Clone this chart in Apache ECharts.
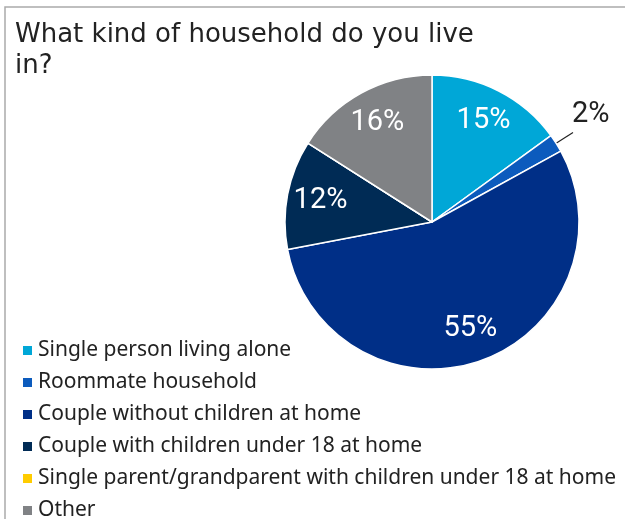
<!DOCTYPE html>
<html>
<head>
<meta charset="utf-8">
<script src="https://cdn.jsdelivr.net/npm/echarts@6/dist/echarts.min.js"></script>
<style>
  html, body { margin: 0; padding: 0; background: #fff; }
  #chart { width: 625px; height: 519px; }
</style>
</head>
<body>
<div id="chart"></div>
<script>
// household types, clockwise from 12 o'clock
var categories = [
    'Single person living alone',
    'Roommate household',
    'Couple without children at home',
    'Couple with children under 18 at home',
    'Single parent/grandparent with children under 18 at home',
    'Other'
];
var shares = [15, 2, 55, 12, 0, 16];
var colors = ['#00a7d7', '#0c5bbd', '#002f87', '#002b55', '#ffcc00', '#808285'];

var myChart = echarts.init(document.getElementById('chart'));

var pieData = [], labelData = [];
categories.forEach(function (name, i) {
    pieData.push({ name: name, value: shares[i], itemStyle: { color: colors[i] } });
    var lbl = { show: shares[i] > 0 };
    // the thin slice gets its label outside with a leader line
    if (shares[i] > 0 && shares[i] < 5) {
        lbl = { show: true, position: 'outside', color: '#222', overflow: 'none', edgeDistance: 0 };
    }
    labelData.push({ name: name, value: shares[i], label: lbl,
        labelLine: { show: shares[i] > 0 && shares[i] < 5 } });
});

var option = {
    backgroundColor: '#fff',
    animation: false,
    color: colors,
    title: {
        text: 'What kind of household do you live\nin?',
        left: 10,
        top: 15,
        textStyle: {
            fontFamily: 'DejaVu Sans',
            fontSize: 26,
            fontWeight: 'normal',
            color: '#222',
            lineHeight: 31
        }
    },
    graphic: [{
        type: 'polyline',
        shape: { points: [[5, 519], [5, 7], [625, 7]] },
        style: { stroke: '#aaa', lineWidth: 1.5, fill: null }
    }],
    legend: {
        orient: 'vertical',
        left: 16,
        top: 335,
        height: 190,
        icon: 'rect',
        itemWidth: 11,
        itemHeight: 11,
        itemGap: 11,
        selectedMode: false,
        data: categories,
        textStyle: {
            fontFamily: 'Noto Sans',
            fontSize: 21,
            lineHeight: 21,
            color: '#222',
            padding: [0, 0, 0, 0]
        }
    },
    series: [{
        name: 'slices',
        type: 'pie',
        center: [432, 222],
        radius: [0, 147],
        startAngle: 90,
        clockwise: true,
        silent: true,
        label: { show: false },
        labelLine: { show: false },
        itemStyle: { borderColor: '#fff', borderWidth: 1.5 },
        data: pieData
    }, {
        // transparent ring used only to place the percentage labels
        name: 'labels',
        type: 'pie',
        center: [432, 222],
        radius: [74, 147],
        startAngle: 90,
        clockwise: true,
        silent: true,
        itemStyle: { color: 'rgba(0,0,0,0)', borderWidth: 0 },
        label: {
            position: 'inside',
            formatter: '{c}%',
            fontFamily: 'Roboto',
            fontSize: 29,
            color: '#fff'
        },
        labelLine: {
            length: 20,
            length2: 0,
            lineStyle: { color: '#222', width: 1.2 }
        },
        labelLayout: function (params) {
            if (params.dataIndex === 1) {
                return { dx: -6, dy: -18 };
            }
        },
        data: labelData
    }]
};

myChart.setOption(option);
</script>
</body>
</html>
